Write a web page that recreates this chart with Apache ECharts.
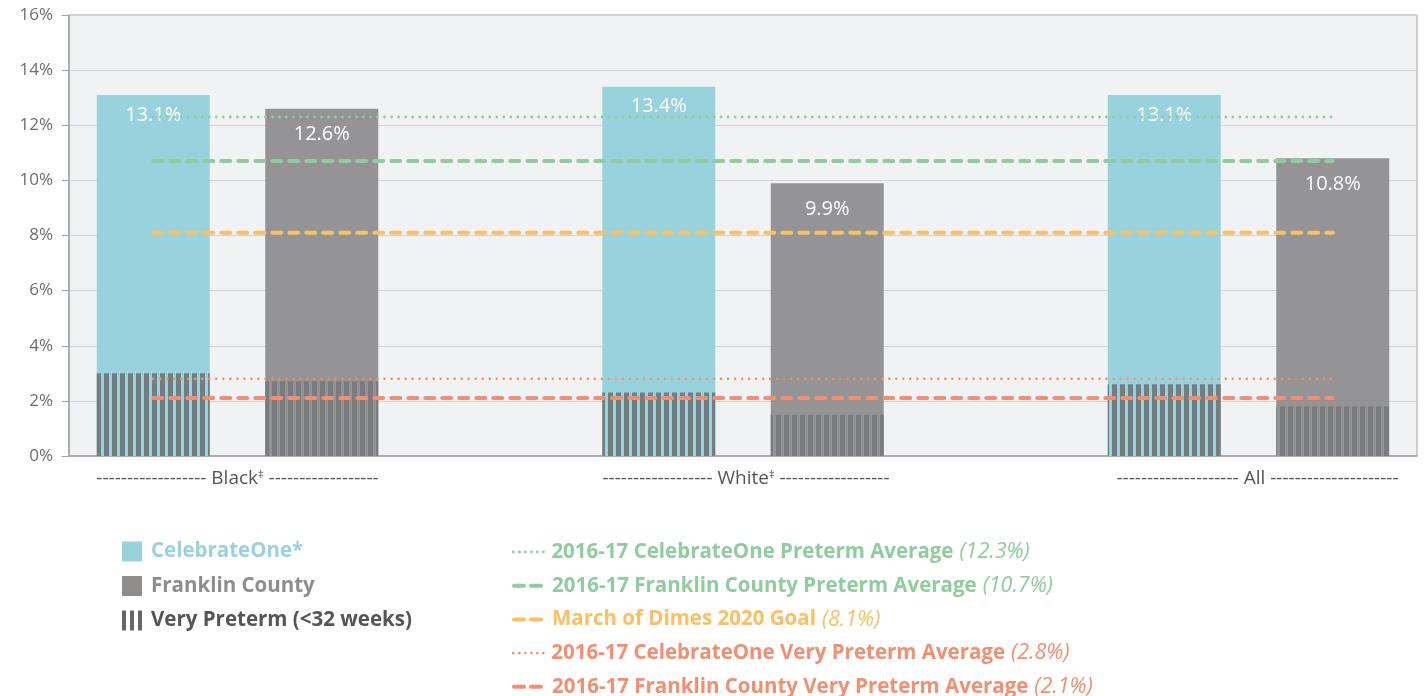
<!DOCTYPE html>
<html>
<head>
<meta charset="utf-8">
<script src="https://cdn.jsdelivr.net/npm/echarts@6/dist/echarts.min.js"></script>
<style>
  html, body { margin: 0; padding: 0; background: #fff; }
  #chart { width: 1424px; height: 696px; }
</style>
</head>
<body>
<div id="chart"></div>
<script>
// slots on the x axis: two bars per group, one empty slot between groups
var categories = ['Black C1', 'Black FC', 'gap1', 'White C1', 'White FC', 'gap2', 'All C1', 'All FC']
var groupLabels = ['Black', 'White', 'All']
var groupLabelPos = [0.5, 3.5, 6.5]
var celebrateOne = [13.1, null, null, 13.4, null, null, 13.1, null]
var franklin = [null, 12.6, null, null, 9.9, null, null, 10.8]
var veryPreterm = [3.0, 2.7, null, 2.3, 1.5, null, 2.6, 1.8]

var avgNames = [
  '2016-17 CelebrateOne Preterm Average',
  '2016-17 Franklin County Preterm Average',
  'March of Dimes 2020 Goal',
  '2016-17 CelebrateOne Very Preterm Average',
  '2016-17 Franklin County Very Preterm Average'
]
var avgValues = [12.3, 10.7, 8.1, 2.8, 2.1]

var avgColors = ['#8fcc9e', '#8fcc9e', '#fbc061', '#f48e70', '#f48e70']
var avgStyles = [
  { width: 2.8, type: [0.01, 7], cap: 'round' },
  { width: 4, type: [9, 8], cap: 'round' },
  { width: 4, type: [9, 8], cap: 'round' },
  { width: 2.6, type: [0.01, 7], cap: 'round' },
  { width: 4, type: [9, 8], cap: 'round' }
]
var legendIconStyles = [
  { width: 2.8, type: [0.01, 6], cap: 'round' },
  { width: 4, type: [10, 7], cap: 'round' },
  { width: 4, type: [10, 7], cap: 'round' },
  { width: 2.6, type: [0.01, 6], cap: 'round' },
  { width: 4, type: [10, 7], cap: 'round' }
]

// vertical stripe pattern for the very preterm part
var stripe = document.createElement('canvas')
stripe.width = 8
stripe.height = 8
var ctx = stripe.getContext('2d')
ctx.fillStyle = '#7a7b7e'
ctx.fillRect(0, 0, 5, 8)

var chart = echarts.init(document.getElementById('chart'), null, { renderer: 'canvas' })

function pct(p) {
  return p.value.toFixed(1) + '%'
}

var series = [
  {
    name: 'CelebrateOne*',
    type: 'bar',
    data: celebrateOne,
    barWidth: 113,
    barGap: '-100%',
    itemStyle: { color: '#98d3dd' },
    label: {
      show: true,
      position: 'insideTop',
      distance: 10,
      color: '#fff',
      fontSize: 20,
      fontFamily: 'Open Sans',
      formatter: pct
    },
    z: 2
  },
  {
    name: 'Franklin County',
    type: 'bar',
    data: franklin,
    barWidth: 113,
    barGap: '-100%',
    itemStyle: { color: '#949497' },
    label: {
      show: true,
      position: 'insideTop',
      distance: 16,
      color: '#fff',
      fontSize: 20,
      fontFamily: 'Open Sans',
      formatter: pct
    },
    z: 2
  },
  {
    name: 'Very Preterm (<32 weeks)',
    type: 'bar',
    data: veryPreterm,
    barWidth: 113,
    barGap: '-100%',
    itemStyle: { color: { image: stripe, repeat: 'repeat' } },
    z: 3
  }
]

for (var i = 0; i < avgNames.length; i++) {
  series.push({
    name: avgNames[i],
    type: 'line',
    data: [[categories[0], avgValues[i]], [categories[categories.length - 1], avgValues[i]]],
    symbol: 'none',
    silent: true,
    itemStyle: { color: avgColors[i] },
    lineStyle: Object.assign({ color: avgColors[i] }, avgStyles[i]),
    z: 4
  })
}

var legends = [
  {
    orient: 'vertical',
    left: 122,
    top: 541,
    padding: 0,
    itemWidth: 20,
    itemHeight: 20,
    itemGap: 13.5,
    selectedMode: false,
    data: [
      { name: 'CelebrateOne*', icon: 'rect' },
      { name: 'Franklin County', icon: 'rect', itemStyle: { color: '#8f8c8c' } },
      { name: 'Very Preterm (<32 weeks)', icon: 'path://M0,0h4v20h-4zM8,0h4v20h-4zM16,0h4v20h-4z', itemStyle: { color: '#666' } }
    ],
    formatter: function(name) {
      var key = name === 'CelebrateOne*' ? 'c' : (name === 'Franklin County' ? 'f' : 'v')
      return '{' + key + '|' + name + '}'
    },
    textStyle: {
      rich: {
        c: { color: '#98d3dd', fontSize: 20.5, fontWeight: 'bold', fontFamily: 'Open Sans', lineHeight: 20, padding: [0, 0, 0, 4] },
        f: { color: '#8f8c8c', fontSize: 20.5, fontWeight: 'bold', fontFamily: 'Open Sans', lineHeight: 20, padding: [0, 0, 0, 4] },
        v: { color: '#555', fontSize: 20.5, fontWeight: 'bold', fontFamily: 'Open Sans', lineHeight: 20, padding: [0, 0, 0, 4] }
      }
    }
  }
]

// one legend per average line, stacked as rows
avgNames.forEach(function(name, k) {
  legends.push({
    left: 512,
    top: 541 + k * 33.7,
    padding: 0,
    itemWidth: 33,
    itemHeight: 20,
    selectedMode: false,
    itemStyle: { opacity: 0 },
    lineStyle: Object.assign({ color: avgColors[k] }, legendIconStyles[k]),
    data: [name],
    formatter: function() {
      return '{b|' + name + '}{i|(' + avgValues[k].toFixed(1) + '%)}'
    },
    textStyle: {
      rich: {
        b: { color: avgColors[k], fontSize: 20.5, fontWeight: 'bold', fontFamily: 'Open Sans', lineHeight: 20 },
        i: { color: avgColors[k], fontSize: 21.5, fontStyle: 'italic', fontFamily: 'Open Sans', lineHeight: 20, padding: [0, 0, 0, 6] }
      }
    }
  })
})

var dashL = '------------------'
var dashAllL = '--------------------'
var dashAllR = '---------------------'
var labelShift = [0, 6, 18]

chart.setOption({
  animation: false,
  grid: {
    left: 69,
    right: 7,
    top: 15,
    bottom: 240,
    show: true,
    backgroundColor: '#f1f2f4',
    borderColor: '#a3a3a6',
    borderWidth: 1
  },
  xAxis: [
    {
      type: 'category',
      data: categories,
      axisLine: { lineStyle: { color: '#a3a3a6', width: 1.5 } },
      axisTick: { show: false },
      axisLabel: { show: false }
    },
    {
      type: 'value',
      min: -0.5,
      max: 7.5,
      position: 'bottom',
      axisLine: { show: false },
      axisTick: { show: false },
      splitLine: { show: false },
      axisLabel: {
        customValues: groupLabelPos,
        margin: 13,
        color: '#555',
        fontSize: 19,
        fontFamily: 'Open Sans',
        formatter: function(v) {
          var k = groupLabelPos.indexOf(v)
          var pad = labelShift[k] ? '{p' + k + '| }' : ''
          if (k === 2) {
            return pad + dashAllL + ' ' + groupLabels[k] + ' ' + dashAllR
          }
          return pad + dashL + ' ' + groupLabels[k] + '{s|‡}' + ' ' + dashL
        },
        rich: {
          s: { fontSize: 11, verticalAlign: 'top', color: '#555', padding: [0, 0, 8, 0] },
          p1: { width: labelShift[1] },
          p2: { width: labelShift[2] }
        }
      }
    }
  ],
  yAxis: {
    type: 'value',
    min: 0,
    max: 16,
    interval: 2,
    axisLine: { show: true, onZero: false, lineStyle: { color: '#a3a3a6', width: 1.5 } },
    axisTick: { show: true, length: 7, lineStyle: { color: '#a3a3a6' } },
    splitLine: { lineStyle: { color: '#d3d4d8' } },
    axisLabel: {
      margin: 16,
      color: '#6d6d70',
      fontSize: 17,
      fontFamily: 'Open Sans',
      formatter: '{value}%'
    }
  },
  legend: legends,
  series: series
})
</script>
</body>
</html>
